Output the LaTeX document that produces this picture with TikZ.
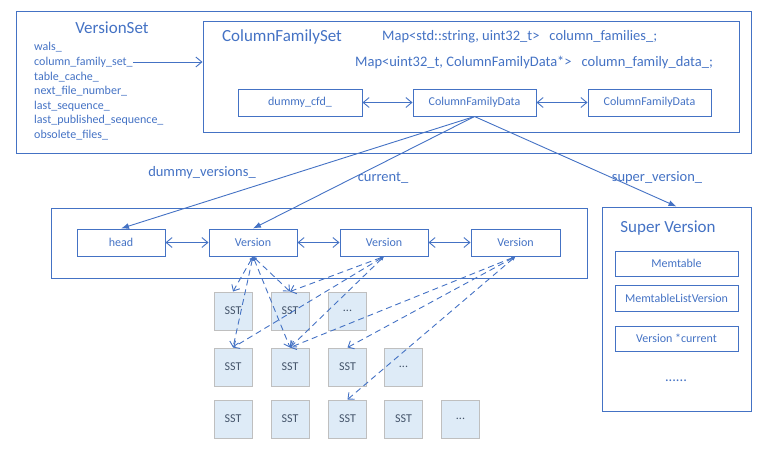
\documentclass[tikz,border=0pt]{standalone}
\usepackage{fontspec}
\setmainfont{Carlito}
\usetikzlibrary{arrows.meta}

\definecolor{lineblue}{HTML}{4472C4}
\definecolor{sstfill}{HTML}{DEEBF7}
\definecolor{sstedge}{HTML}{BFBFBF}
\definecolor{ssttext}{HTML}{44546A}

\tikzset{
    frame/.style={draw=lineblue, line width=1pt, inner sep=0pt},
    cell/.style={draw=lineblue, line width=1pt, text=lineblue, inner sep=0pt, minimum height=27pt, font=\fontsize{12}{14}\selectfont},
    sst/.style={draw=sstedge, fill=sstfill, text=ssttext, line width=1pt, minimum size=38pt, inner sep=0pt, font=\fontsize{12}{14}\selectfont},
    heading/.style={text=lineblue, inner sep=0pt, font=\fontsize{17}{20}\selectfont},
    field/.style={text=lineblue, inner sep=0pt, anchor=west, font=\fontsize{12}{14}\selectfont},
    mapline/.style={text=lineblue, inner sep=0pt, anchor=west, font=\fontsize{14.5}{17}\selectfont},
    ptrname/.style={text=lineblue, inner sep=0pt, font=\fontsize{14.5}{17}\selectfont},
    biarrow/.style={draw=lineblue, line width=0.9pt, {Straight Barb[length=6pt,width=10pt]}-{Straight Barb[length=6pt,width=10pt]}},
    openptr/.style={draw=lineblue, line width=0.9pt, -{Straight Barb[length=6pt,width=10pt]}},
    ptr/.style={draw=lineblue, line width=0.9pt, -{Latex[length=8pt,width=6pt]}},
    sstref/.style={draw=lineblue, line width=0.9pt, dash pattern=on 6pt off 4pt, {Latex[length=4pt,width=4pt]}-{Straight Barb[length=5pt,width=9pt]}}
}

\begin{document}
\begin{tikzpicture}[x=1pt, y=-1pt]
    \useasboundingbox (0,0) rectangle (768,452);

    % Draw the VersionSet frame and its fields
    \node[frame, minimum width=735pt, minimum height=141pt] (vset) at (383.5,82.5) {};
    \node[heading] (vsettitle) at (112,28) {VersionSet};
    \node[field] (wals) at (34,47) {wals\_};
    \node[field] (cfs) at (34,62) {column\_family\_set\_};
    \node[field] (tcache) at (34,77) {table\_cache\_};
    \node[field] (nextfile) at (34,91) {next\_file\_number\_};
    \node[field] (lastseq) at (34,106) {last\_sequence\_};
    \node[field] (lastpub) at (34,120) {last\_published\_sequence\_};
    \node[field] (obsolete) at (34,135) {obsolete\_files\_};

    % Draw the ColumnFamilySet
    \node[frame, minimum width=536pt, minimum height=110pt] (cfset) at (471,77) {};
    \node[heading] (cfsettitle) at (282,37) {ColumnFamilySet};
    \node[mapline] (mapone) at (382,37) {Map<std::string, uint32\_t>\hspace{10pt}column\_families\_;};
    \node[mapline] (maptwo) at (355,63) {Map<uint32\_t, ColumnFamilyData*>\hspace{10pt}column\_family\_data\_;};
    \draw[openptr] (cfs.east) -- (cfs.east -| cfset.west);

    \node[cell, minimum width=124pt] (dummycfd) at (300,102.5) {dummy\_cfd\_};
    \node[cell, minimum width=123pt] (cfdmid) at (474.5,102.5) {ColumnFamilyData};
    \node[cell, minimum width=123pt] (cfdright) at (649.5,102.5) {ColumnFamilyData};
    \draw[biarrow] (dummycfd) -- (cfdmid);
    \draw[biarrow] (cfdmid) -- (cfdright);

    % Draw the list of versions
    \node[frame, minimum width=536pt, minimum height=70pt] (vlist) at (319,243) {};
    \node[cell, minimum width=88pt] (head) at (121,242.5) {head};
    \node[cell, minimum width=88pt] (verone) at (253,242.5) {Version};
    \node[cell, minimum width=88pt] (vertwo) at (384,242.5) {Version};
    \node[cell, minimum width=89pt] (verthree) at (515.5,242.5) {Version};
    \draw[biarrow] (head) -- (verone);
    \draw[biarrow] (verone) -- (vertwo);
    \draw[biarrow] (vertwo) -- (verthree);

    % Draw the Super Version
    \node[frame, minimum width=149pt, minimum height=204pt] (svframe) at (676.5,309) {};
    \node[heading] (svtitle) at (668,228) {Super Version};
    \node[cell, minimum width=123pt, minimum height=25pt] (memtable) at (676.5,263.5) {Memtable};
    \node[cell, minimum width=123pt, minimum height=26pt] (mlv) at (676.5,298) {MemtableListVersion};
    \node[cell, minimum width=123pt, minimum height=25pt] (svcurrent) at (676.5,338.5) {Version *current};
    \node[ptrname] (svdots) at (676,381) {......};

    % Draw the pointers out of ColumnFamilyData
    \draw[ptr] (cfdmid.south) -- (head.north);
    \draw[ptr] (cfdmid.south) -- (verone.north);
    \draw[ptr] (cfdmid.south) -- (svframe.north);
    \node[ptrname] (dummyver) at (202,173) {dummy\_versions\_};
    \node[ptrname] (current) at (383,178) {current\_};
    \node[ptrname] (superver) at (657,178) {super\_version\_};

    % Draw the SST files
    \node[sst] (sa) at (233,311) {SST};
    \node[sst] (sb) at (290,311) {SST};
    \node[sst] (sc) at (347.5,311) {...};

    \node[sst] (sd) at (233,367) {SST};
    \node[sst] (se) at (290,367) {SST};
    \node[sst] (sf) at (347.5,367) {SST};
    \node[sst] (sg) at (403.5,367) {...};

    \node[sst] (sh) at (233,419) {SST};
    \node[sst] (si) at (290,419) {SST};
    \node[sst] (sj) at (347.5,419) {SST};
    \node[sst] (sk) at (403.5,419) {SST};
    \node[sst] (sl) at (460.5,419) {...};

    % Draw the references from versions to SST files
    \draw[sstref] (verone.south) -- (sa.north);
    \draw[sstref] (verone.south) -- (sb.north);
    \draw[sstref] (verone.south) -- (sd.north);
    \draw[sstref] (verone.south) -- (se.north);

    \draw[sstref] (vertwo.south) -- (sb.north);
    \draw[sstref] (vertwo.south) -- (sd.north);
    \draw[sstref] (vertwo.south) -- (se.north);

    \draw[sstref] (verthree.south) -- (se.north);
    \draw[sstref] (verthree.south) -- (sf.north);
    \draw[sstref] (verthree.south) -- (sj.north);
\end{tikzpicture}
\end{document}
